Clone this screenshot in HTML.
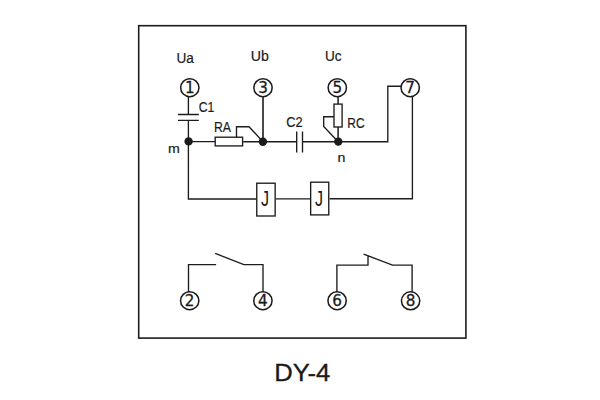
<!DOCTYPE html>
<html><head><meta charset="utf-8"><title>DY-4</title>
<style>
html,body{margin:0;padding:0;background:#fff;}
body{width:600px;height:400px;overflow:hidden;}
svg{display:block;}
text{font-family:"Liberation Sans",sans-serif;fill:#1a1a1a;}
.l{fill:none;stroke:#1c1c1c;stroke-width:1.35;}
.c{fill:#fff;stroke:#1c1c1c;stroke-width:1.55;}
.r{stroke-width:1.35;}
.d{fill:#1a1a1a;}
.t{font-size:14.1px;text-anchor:middle;stroke:#1a1a1a;stroke-width:0.2;}
.n{font-family:"DejaVu Sans",sans-serif;font-size:15.2px;text-anchor:middle;stroke:#1a1a1a;stroke-width:0.28;}
</style></head><body>
<svg width="600" height="400" viewBox="0 0 600 400">
<rect x="138.7" y="25.7" width="327.2" height="312.4" class="l" style="stroke-width:1.6"/>
<!-- wires -->
<path class="l" d="M188.4 96V114.5M178 114.5H198.8M178 120.4H198.8M188.4 120.4V199H256"/>
<path class="l" d="M188.4 141.6H215M243.2 141.7H296.7M302.5 141.7H387.8V86.2H402"/>
<path class="l" d="M296.7 131.5V152.5M302.5 131.5V152.5"/>
<rect class="c r" x="215.2" y="137.2" width="27.4" height="8.7"/>
<path class="l" d="M236.5 137V126.7H249L262.9 141.7"/>
<path class="l" d="M263 96V141.7" style="stroke-width:1.6"/>
<path class="l" d="M338.1 96V104M338.1 127V141.7" style="stroke-width:1.5"/>
<rect class="c r" x="334" y="104.1" width="8.1" height="22.9"/>
<path class="l" d="M334 116.7H323.7V126.5L338.2 141.7"/>
<path class="l" d="M412.4 96V198.7H329.6M310 198.8H275.9"/>
<rect class="c r" x="256.75" y="183.2" width="18.4" height="32.8"/>
<rect class="c r" x="310.65" y="182.2" width="18.1" height="32.7"/>
<circle class="d" cx="188.6" cy="141.4" r="4.2"/>
<circle class="d" cx="262.9" cy="141.7" r="4.2"/>
<circle class="d" cx="338.3" cy="141.6" r="4.2"/>
<!-- contacts -->
<path class="l" d="M188.5 292V264.6H216.1M215.2 253.4L243.8 264.6H263V292"/>
<path class="l" d="M336.9 292V265.1H368V255.1M363.6 254.1L392.5 265.1H412.1V292"/>
<!-- terminals -->
<g>
<ellipse class="c" cx="189.8" cy="87.7" rx="9.15" ry="9"/><text class="n" x="189.9" y="92.9">1</text>
<ellipse class="c" cx="263" cy="87.7" rx="9.15" ry="9"/><text class="n" x="263" y="92.9">3</text>
<ellipse class="c" cx="337.3" cy="87.7" rx="9.15" ry="9"/><text class="n" x="337.3" y="92.9">5</text>
<ellipse class="c" cx="410.2" cy="87.7" rx="9.15" ry="9"/><text class="n" x="410.2" y="92.9">7</text>
<ellipse class="c" cx="189.7" cy="300.7" rx="9.15" ry="9"/><text class="n" x="189.7" y="306.1">2</text>
<ellipse class="c" cx="262.9" cy="300.7" rx="9.15" ry="9"/><text class="n" x="262.9" y="306.1">4</text>
<ellipse class="c" cx="337.1" cy="300.7" rx="9.15" ry="9"/><text class="n" x="337.1" y="306.1">6</text>
<ellipse class="c" cx="410.6" cy="300.8" rx="9.15" ry="9"/><text class="n" x="410.6" y="306.1">8</text>
</g>
<!-- labels -->
<text class="t" transform="translate(185.15 62.8) scale(0.965 1)">Ua</text>
<text class="t" transform="translate(259.7 60.8) scale(1.003 1)">Ub</text>
<text class="t" transform="translate(333.35 60.8) scale(0.965 1)">Uc</text>
<text class="t" transform="translate(206.6 111.5) scale(0.868 1)">C1</text>
<text class="t" transform="translate(222.5 131.5) scale(0.868 1)">RA</text>
<text class="t" transform="translate(294.5 126.8) scale(0.907 1)">C2</text>
<text class="t" transform="translate(355.9 127.65) scale(0.849 1)">RC</text>
<text class="t" style="font-size:13px" transform="translate(173.9 153.0) scale(1.09 1)">m</text>
<text class="t" style="font-size:13px" transform="translate(341.55 161.5) scale(1.09 1)">n</text>
<text transform="translate(265 206) scale(0.75 1)" style="font-size:21.6px;text-anchor:middle">J</text>
<text transform="translate(318.95 206) scale(0.75 1)" style="font-size:21.6px;text-anchor:middle">J</text>
<text x="302.3" y="381.3" style="font-size:24px;text-anchor:middle;stroke:#1a1a1a;stroke-width:0.3" textLength="56" lengthAdjust="spacingAndGlyphs">DY-4</text>
</svg>
</body></html>
